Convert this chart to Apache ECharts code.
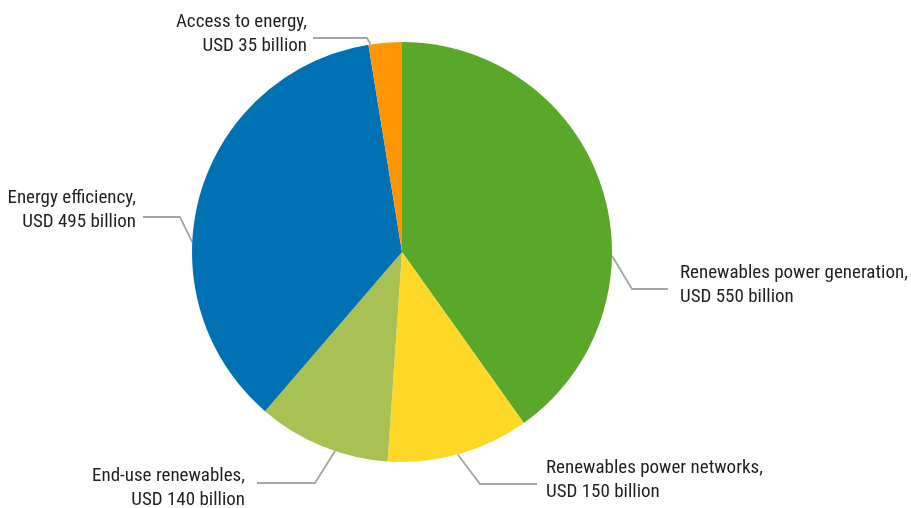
<!DOCTYPE html>
<html>
<head>
<meta charset="utf-8">
<script src="https://cdn.jsdelivr.net/npm/echarts@6/dist/echarts.min.js"></script>
<style>
  html, body { margin: 0; padding: 0; background: #ffffff; }
  #chart { width: 911px; height: 508px; }
</style>
</head>
<body>
<div id="chart"></div>
<script>
// Clean energy investment by category (USD billion)
const categories = [
  'Renewables power generation',
  'Renewables power networks',
  'End-use renewables',
  'Energy efficiency',
  'Access to energy'
];
const values = [550, 150, 140, 495, 35];
const colors = ['#5aa829', '#fdd826', '#a9c153', '#0071b2', '#ff9500'];

// Pie geometry
const CX = 402, CY = 252, R = 210;

// Leader lines: rim angle (deg, clockwise from 12 o'clock), elbow, end of the
// horizontal run, text side and the vertical centre of the two-line label.
const callouts = [
  { angle: 91,    elbow: [632, 289], end: [668, 289], align: 'left',  gap: 12, labelY: 285 },
  { angle: 164.6, elbow: [480, 484], end: [537, 484], align: 'left',  gap: 9,  labelY: 480 },
  { angle: 198.6, elbow: [315, 483], end: [257, 483], align: 'right', gap: 12, labelY: 488 },
  { angle: 272.7, elbow: [180, 217], end: [143, 217], align: 'right', gap: 7,  labelY: 210 },
  { angle: 351.4, elbow: [367, 38],  end: [313, 38],  align: 'right', gap: 6,  labelY: 34 }
];

function rimPoint(deg) {
  const a = deg * Math.PI / 180;
  return [CX + R * Math.sin(a), CY - R * Math.cos(a)];
}

const chart = echarts.init(document.getElementById('chart'), null, { renderer: 'canvas' });

chart.setOption({
  animation: false,
  backgroundColor: '#ffffff',
  series: [{
    type: 'pie',
    center: [CX, CY],
    radius: [0, R],
    startAngle: 90,
    clockwise: true,
    avoidLabelOverlap: false,
    data: categories.map((name, i) => ({
      name: name,
      value: values[i],
      itemStyle: { color: colors[i] }
    })),
    itemStyle: { borderWidth: 0 },
    emphasis: { disabled: true },
    label: {
      show: true,
      position: 'outside',
      formatter: '{b},\nUSD {c} billion',
      fontFamily: '"Roboto Condensed", Roboto, sans-serif',
      fontSize: 19,
      lineHeight: 24,
      color: '#231f20'
    },
    labelLine: {
      show: true,
      length: 20,
      length2: 30,
      smooth: false,
      lineStyle: { color: '#a5a5a5', width: 1.8 }
    },
    labelLayout: function (params) {
      const c = callouts[params.dataIndex];
      const x = c.align === 'left' ? c.end[0] + c.gap : c.end[0] - c.gap;
      return {
        x: x,
        y: c.labelY,
        align: c.align,
        verticalAlign: 'middle',
        labelLinePoints: [rimPoint(c.angle), c.elbow.slice(), c.end.slice()]
      };
    }
  }]
});
</script>
</body>
</html>
